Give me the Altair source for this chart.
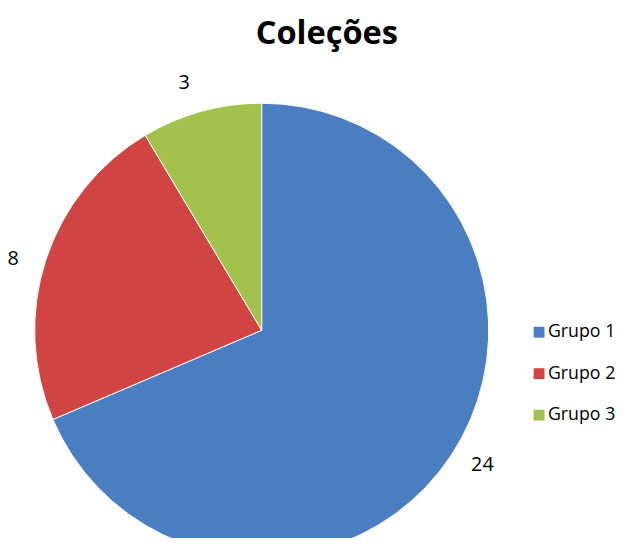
import altair as alt
import pandas as pd

categories = ["Grupo 1", "Grupo 2", "Grupo 3"]
values = [24, 8, 3]
colors = ["#4A7EC1", "#D04443", "#A2C14D"]
title_text = "Coleções"

df = pd.DataFrame({"grupo": categories, "valor": values, "ordem": [0, 1, 2]})

CX, CY = 257, 323
R = 230

base = alt.Chart(df).encode(
    theta=alt.Theta("valor:Q", stack=True),
    order=alt.Order("ordem:Q"),
)

pie = base.mark_arc(radius=R, stroke="#ffffff", strokeWidth=1).encode(
    x=alt.value(CX),
    y=alt.value(CY),
    color=alt.Color(
        "grupo:N",
        scale=alt.Scale(domain=categories, range=colors),
        legend=alt.Legend(
            title=None,
            orient="none",
            legendX=529,
            legendY=316,
            symbolType="square",
            symbolSize=121,
            symbolStrokeWidth=0,
            labelFontSize=18,
            labelFont="Open Sans",
            labelColor="#000000",
            labelOffset=0,
            labelLimit=300,
            rowPadding=24,
        ),
    ),
)

labels = base.mark_text(
    radius=262, thetaOffset=-0.035, fontSize=20, font="Open Sans", color="#000000"
).encode(
    x=alt.value(CX),
    y=alt.value(CY),
    text=alt.Text("valor:Q"),
)

title = alt.Chart(pd.DataFrame({"t": [title_text]})).mark_text(
    fontSize=33, font="Open Sans", fontWeight="bold", color="#000000",
    align="center", baseline="alphabetic"
).encode(
    x=alt.value(323),
    y=alt.value(33),
    text="t:N",
)

chart = alt.layer(pie, labels, title).properties(
    width=620,
    height=530,
    autosize=alt.AutoSizeParams(type="none"),
    padding=0,
).configure_view(stroke=None)

chart.save("out.html", embed_options={"renderer": "svg", "actions": False})
